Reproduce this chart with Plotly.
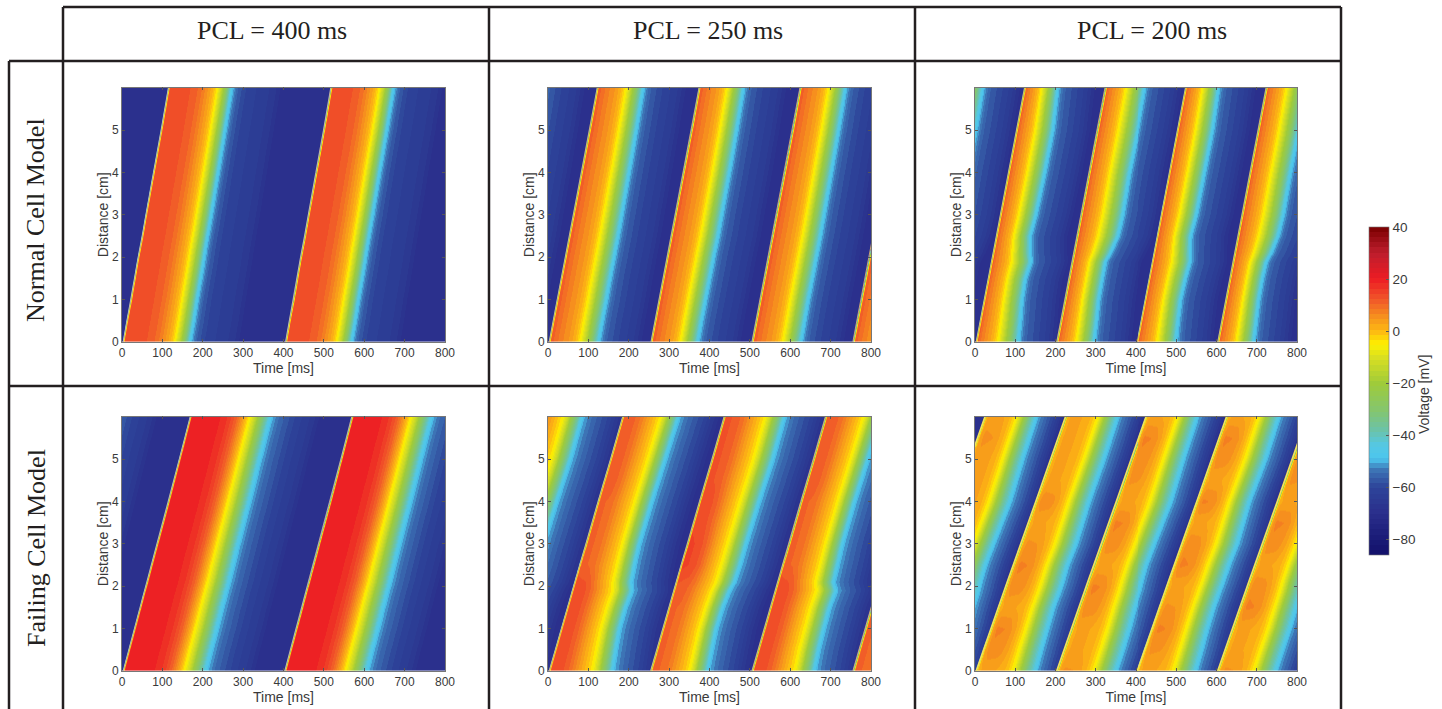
import numpy as np
import plotly.graph_objects as go

# ---------- data ----------
COLUMN_TITLES = ["PCL = 400 ms", "PCL = 250 ms", "PCL = 200 ms"]
ROW_TITLES = ["Normal Cell Model", "Failing Cell Model"]
X_TICKS = [0, 100, 200, 300, 400, 500, 600, 700, 800]
Y_TICKS = [0, 1, 2, 3, 4, 5]
CB_TICKS = [40, 20, 0, -20, -40, -60, -80]
CB_TITLE = "Voltage [mV]"
X_TITLE = "Time [ms]"
Y_TITLE = "Distance [cm]"

DIST = [0, 0.5, 1, 1.5, 1.9, 2.1, 2.5, 3, 4, 5, 6]
PLATEAU_DIST = [0, 0.5, 1, 1.5, 2, 2.5, 3, 3.5, 4, 4.5, 5, 5.5, 6]
REST_V = -70

# voltage colour anchors
CMAP_V = [-86, -78, -70, -60, -53, -49, -44, -38, -30, -20, -10, -5, 0, 5, 12, 20, 30, 40]
CMAP_C = ["#12106a", "#1d1f7b", "#2b2f8c", "#2e459a", "#3f78b8", "#4cc6ee", "#55c8e4", "#6cc3a8",
          "#86c66c", "#a0cc3a", "#dbe021", "#fff200", "#fdb913", "#f7941d", "#f1592a", "#ed1c24",
          "#be1e2d", "#7a0000"]

# ---- Normal, PCL 400
N400_STARTS = [0, 402]
N400_FRONT = [3, 12, 22, 31, 38, 42, 50, 59, 78, 97, 115]
N400_CYAN = [[167, 176, 184, 193, 200, 203, 210, 219, 236, 253, 270],
             [164, 173, 181, 190, 197, 200, 207, 216, 233, 251, 268]]
N400_PRE_F = [0.02, 0.35, 0.45, 0.55, 0.62, 0.70, 0.76, 0.85, 0.92, 1.0]
N400_PRE_V = [14, 12.5, 11, 8, 5, 1.5, -3, -15, -28, -46]
N400_TAIL_MS = [6, 18, 40, 105, 130]
N400_TAIL_V = [-51, -57, -61, -65, -70]

# ---- Normal, PCL 250
N250_STARTS = [-248, 0, 252, 502, 752]
N250_FRONT = [3, 13, 23, 33, 41, 45, 53, 63, 83, 103, 122]
N250_CYAN = [[122, 131, 140, 150, 158, 162, 170, 179, 197, 215, 232],
             [124, 133, 143, 152, 160, 164, 172, 181, 199, 217, 234],
             [117, 126, 136, 146, 154, 158, 167, 176, 195, 213, 230],
             [122, 131, 140, 150, 158, 162, 170, 179, 197, 215, 232],
             [117, 126, 136, 146, 154, 158, 167, 176, 195, 213, 230]]
N250_PRE_F = [0.03, 0.10, 0.25, 0.42, 0.52, 0.60, 0.70, 0.82, 0.92, 1.0]
N250_PRE_V = [12, 10, 7, 4, 1, -3, -11, -24, -36, -46]
N250_TAIL_MS = [6, 18, 45, 85, 115]
N250_TAIL_V = [-51, -56, -60, -64, -70]

# ---- Normal, PCL 200
N200_STARTS = [-197, 3, 203, 403, 603]
N200_FRONT = [0, 10, 20, 30, 38, 42, 50, 60, 80, 100, 120]
N200_CYAN = [[87, 93, 99, 108, 118, 130, 147, 160, 178, 198, 215],
             [103, 108, 112, 120, 134, 132, 132, 146, 168, 188, 200],
             [90, 96, 101, 110, 118, 130, 149, 161, 178, 199, 217],
             [95, 100, 106, 118, 130, 130, 131, 145, 165, 185, 200],
             [87, 93, 99, 108, 118, 130, 147, 160, 178, 198, 215]]
N200_PRE_F = [0.03, 0.08, 0.20, 0.32, 0.42, 0.50, 0.62, 0.78, 0.92, 1.0]
N200_PRE_V = [12, 9, 6, 3, 0, -4, -12, -25, -38, -46]
N200_TAIL_MS = [6, 18, 40, 70, 100]
N200_TAIL_V = [-51, -56, -59, -63, -70]

# ---- Failing, PCL 400
F400_STARTS = [-400, 0, 400]
F400_FRONT = [3, 17, 31, 45, 56, 62, 73, 87, 115, 142, 169]
F400_CYAN = [[204, 217, 231, 244, 255, 261, 271, 284, 311, 337, 364],
             [206, 219, 233, 246, 257, 263, 273, 286, 313, 339, 366],
             [204, 217, 231, 244, 255, 261, 271, 284, 311, 337, 364]]
F400_PRE_F = [0.02, 0.35, 0.48, 0.58, 0.65, 0.71, 0.73, 0.80, 0.88, 0.95, 1.0]
F400_PRE_V = [20, 19, 16, 11, 5, -1, -4, -12, -26, -38, -46]
F400_TAIL_MS = [8, 24, 45, 65, 105, 130]
F400_TAIL_V = [-51, -55, -58, -61, -65, -70]

# ---- Failing, PCL 250
F250_STARTS = [-249, 0, 251, 502, 752]
F250_FRONT = [3, 18, 33, 48, 60, 66, 78, 94, 124, 155, 185]
F250_CYAN = [[142, 152, 163, 179, 196, 208, 222, 237, 269, 303, 332],
             [158, 166, 175, 190, 206, 204, 212, 224, 255, 288, 321],
             [142, 152, 163, 179, 196, 208, 222, 237, 269, 303, 332],
             [155, 165, 178, 192, 208, 202, 212, 224, 254, 287, 320],
             [142, 152, 163, 179, 196, 208, 222, 237, 269, 303, 332]]
F250_PRE_F = [0.02, 0.20, 0.32, 0.42, 0.52, 0.60, 0.67, 0.76, 0.85, 0.94, 1.0]
F250_PRE_V = [14, 13, 10, 6, 2, -1, -4, -12, -25, -37, -46]
F250_TAIL_MS = [8, 28, 48, 68, 90, 110]
F250_TAIL_V = [-51, -55, -58, -61, -66, -70]
F250_PLATEAU = [[-3, -3, -3, -3, -2, 1, 1, 0, 0, -1, -1, -1, -1],
                [0, 0, 0, 0, 0, -3, -3, -3, -3, -2, -2, -2, -2],
                [-3, -3, -3, -3, -2, 1, 1, 0, 0, -1, -1, -1, -1],
                [0, 0, 0, 0, 0, -3, -3, -3, -3, -2, -2, -2, -2],
                [-3, -3, -3, -3, -2, 1, 1, 0, 0, -1, -1, -1, -1]]

# ---- Failing, PCL 200
F200_STARTS = [-200, 0, 200, 400, 600]
F200_FRONT = [3, 21, 40, 58, 73, 80, 95, 114, 151, 188, 225]
F200_CYAN = [[148, 165, 181, 195, 208, 213, 225, 245, 286, 317, 351],
             [149, 163, 178, 193, 209, 216, 228, 249, 281, 318, 352],
             [148, 165, 181, 195, 208, 213, 225, 245, 286, 317, 351],
             [147, 162, 176, 192, 207, 215, 229, 250, 280, 320, 353],
             [145, 162, 180, 195, 208, 213, 226, 246, 286, 318, 350]]
F200_PRE_F = [0.02, 0.10, 0.30, 0.42, 0.50, 0.58, 0.65, 0.75, 0.87, 1.0]
F200_PRE_V = [2, 6, 5.5, 3, 0.5, -3, -8, -20, -35, -46]
F200_TAIL_MS = [6, 18, 30, 42, 55, 70]
F200_TAIL_V = [-51, -54, -57, -60, -64, -70]
F200_PLATEAU = [[-2, -1, -2, -1, -2, -1, -2, -1, -2, -2, -2, -1, -2],
                [-3, 0, 1, -3, 0, 1, -1, -3, 0, -3, -3, -3, -3],
                [-1, -3, -3, 0, 1, -3, 0, 1, -3, -1, 0, 1, -3],
                [-3, -1, 1, -1, -3, 1, 0, -3, 1, -3, 0, 1, -3],
                [-1, -3, -3, 1, 0, -3, 0, 1, -3, -1, 0, -3, -3]]

# ---------- geometry ----------
W, H = 1442, 709
COL_X = [(122, 445), (548, 871), (975, 1297)]
ROW_Y = [(87.6, 342), (416.6, 671)]
COLS, ROWS = 324, 255
TIME_AXIS = np.linspace(0, 800, COLS)
DIST_AXIS = np.linspace(0, 6, ROWS)
FINE_T = np.linspace(0, 800, COLS * 3)
FINE_D = np.linspace(0, 6, ROWS * 2)
FRONT_COLORS = ["#d8b49a", "#e0b070", "#e8b860", "#d4b09a", "#e6b070", "#f6e05a"]
FRONT_WIDTHS = [0.9, 0.9, 0.9, 0.9, 0.9, 1.6]


def px(x):
    return x / W


def py(y):
    return 1 - y / H


def soften(a):
    """Light blur of the image, like the soft scan of the original."""
    out = a.copy()
    out[1:-1, :] = (a[:-2, :] + 2 * a[1:-1, :] + a[2:, :]) / 4
    res = out.copy()
    res[:, 1:-1] = (out[:, :-2] + 2 * out[:, 1:-1] + out[:, 2:]) / 4
    return res


def build(starts, front, cyan, pre_f, pre_v, tail_ms, tail_v, plateau=None):
    z = np.full((FINE_D.size, FINE_T.size), float(REST_V))
    peak = max(pre_v)
    pre_v = np.array(pre_v, float)
    for b, s in enumerate(starts):
        for r, d in enumerate(FINE_D):
            arrive = s + np.interp(d, DIST, front)
            end = s + np.interp(d, DIST, cyan[b])
            v = pre_v.copy()
            if plateau is not None:
                delta = np.interp(d, PLATEAU_DIST, plateau[b])
                v = v + delta * np.clip(v / peak, 0, 1)
            t_nodes = np.concatenate((arrive + np.array(pre_f) * (end - arrive), end + np.array(tail_ms)))
            v_nodes = np.concatenate((v, tail_v))
            mask = FINE_T >= arrive
            z[r, mask] = np.interp(FINE_T[mask], t_nodes, v_nodes)
    z = z.reshape(ROWS, 2, COLS, 3).mean(axis=(1, 3))
    return soften(z)


PANELS = [
    build(N400_STARTS, N400_FRONT, N400_CYAN, N400_PRE_F, N400_PRE_V, N400_TAIL_MS, N400_TAIL_V),
    build(N250_STARTS, N250_FRONT, N250_CYAN, N250_PRE_F, N250_PRE_V, N250_TAIL_MS, N250_TAIL_V),
    build(N200_STARTS, N200_FRONT, N200_CYAN, N200_PRE_F, N200_PRE_V, N200_TAIL_MS, N200_TAIL_V),
    build(F400_STARTS, F400_FRONT, F400_CYAN, F400_PRE_F, F400_PRE_V, F400_TAIL_MS, F400_TAIL_V),
    build(F250_STARTS, F250_FRONT, F250_CYAN, F250_PRE_F, F250_PRE_V, F250_TAIL_MS, F250_TAIL_V, F250_PLATEAU),
    build(F200_STARTS, F200_FRONT, F200_CYAN, F200_PRE_F, F200_PRE_V, F200_TAIL_MS, F200_TAIL_V, F200_PLATEAU),
]
WAVES = [(N400_STARTS, N400_FRONT), (N250_STARTS, N250_FRONT), (N200_STARTS, N200_FRONT),
         (F400_STARTS, F400_FRONT), (F250_STARTS, F250_FRONT), (F200_STARTS, F200_FRONT)]


def rgb(h):
    return np.array([int(h[i:i + 2], 16) for i in (1, 3, 5)], float)


def stepped_scale(steps=64):
    lo, hi = CMAP_V[0], CMAP_V[-1]
    anchors = np.array([rgb(c) for c in CMAP_C])
    scale = []
    for i in range(steps):
        mid = lo + (i + 0.5) / steps * (hi - lo)
        col = [np.interp(mid, CMAP_V, anchors[:, k]) for k in range(3)]
        c = "rgb(%d,%d,%d)" % tuple(col)
        scale.append([i / steps, c])
        scale.append([(i + 1) / steps, c])
    return scale


fig = go.Figure()
layout = {}
AX_FONT = dict(family="Liberation Sans", size=12, color="#3a3a3a")
for i, z in enumerate(PANELS):
    r, c = divmod(i, 3)
    n = "" if i == 0 else str(i + 1)
    fig.add_trace(go.Heatmap(x=TIME_AXIS, y=DIST_AXIS, z=z.astype(np.float32), coloraxis="coloraxis",
                             zsmooth="best", xaxis="x" + n, yaxis="y" + n, hoverinfo="skip"))
    starts, front = WAVES[i]
    for s in starts:
        fig.add_trace(go.Scatter(x=[s + f for f in front], y=DIST, mode="lines", xaxis="x" + n, yaxis="y" + n,
                                 line=dict(color=FRONT_COLORS[i], width=FRONT_WIDTHS[i]), hoverinfo="skip"))
    x0, x1 = COL_X[c]
    y0, y1 = ROW_Y[r]
    axis = dict(showline=True, mirror="ticks", linecolor="#777777", linewidth=0.6, ticks="inside",
                ticklen=3, tickwidth=0.6, tickcolor="#555555", showgrid=False, zeroline=False,
                tickfont=AX_FONT, layer="above traces")
    layout["xaxis" + n] = dict(axis, domain=[px(x0), px(x1)], range=[0, 800], tickvals=X_TICKS,
                               anchor="y" + n,
                               title=dict(text=X_TITLE, font=dict(AX_FONT, size=14), standoff=2))
    layout["yaxis" + n] = dict(axis, domain=[py(y1), py(y0)], range=[0, 6], tickvals=Y_TICKS,
                               anchor="x" + n,
                               title=dict(text=Y_TITLE, font=dict(AX_FONT, size=14), standoff=0))

INK = "#231f20"
GRID_H = [(7, 63, 1341), (61, 9, 1341), (386, 9, 1341)]
GRID_V = [(9, 61, 712), (63, 7, 712), (489, 7, 712), (915, 7, 712), (1341, 7, 712)]
shapes = []
for y, a, b in GRID_H:
    shapes.append(dict(type="line", xref="paper", yref="paper", x0=px(a), x1=px(b), y0=py(y), y1=py(y),
                       line=dict(color=INK, width=2.5)))
for x, a, b in GRID_V:
    shapes.append(dict(type="line", xref="paper", yref="paper", x0=px(x), x1=px(x), y0=py(a), y1=py(b),
                       line=dict(color=INK, width=2.5)))

SERIF = "Liberation Serif"
annotations = []
for text, cx in zip(COLUMN_TITLES, (272, 708, 1152)):
    annotations.append(dict(text=text, x=px(cx), y=py(30), xref="paper", yref="paper", showarrow=False,
                            xanchor="center", yanchor="middle",
                            font=dict(family=SERIF, size=26, color=INK)))
for text, cy in zip(ROW_TITLES, (220, 548)):
    annotations.append(dict(text=text, x=px(36), y=py(cy), xref="paper", yref="paper", showarrow=False,
                            xanchor="center", yanchor="middle",
                            textangle=-90, font=dict(family=SERIF, size=26, color=INK)))
annotations.append(dict(text=CB_TITLE, x=px(1424), y=py(395), xref="paper", yref="paper", showarrow=False,
                        xanchor="center", yanchor="middle",
                        textangle=-90, font=dict(family="Liberation Sans", size=14, color="#3a3a3a")))

layout.update(
    width=W, height=H, margin=dict(l=0, r=0, t=0, b=0, autoexpand=False), paper_bgcolor="white",
    plot_bgcolor="white", showlegend=False, shapes=shapes, annotations=annotations,
    coloraxis=dict(
        cmin=CMAP_V[0], cmax=CMAP_V[-1], colorscale=stepped_scale(),
        colorbar=dict(x=px(1369), xanchor="left", xpad=0, ypad=0, thickness=20, thicknessmode="pixels",
                      len=328, lenmode="pixels", y=py(391), yanchor="middle", tickvals=CB_TICKS,
                      ticks="inside", ticklen=3, tickwidth=0.6, tickcolor="#555555",
                      outlinewidth=0.6, outlinecolor="#777777",
                      tickfont=dict(family="Liberation Sans", size=13.5, color="#3a3a3a")),
    ),
)
fig.update_layout(**layout)
fig.write_html("out.html", config=dict(displayModeBar=False),
               post_script="document.body.style.margin='0';document.body.style.overflow='hidden';")
